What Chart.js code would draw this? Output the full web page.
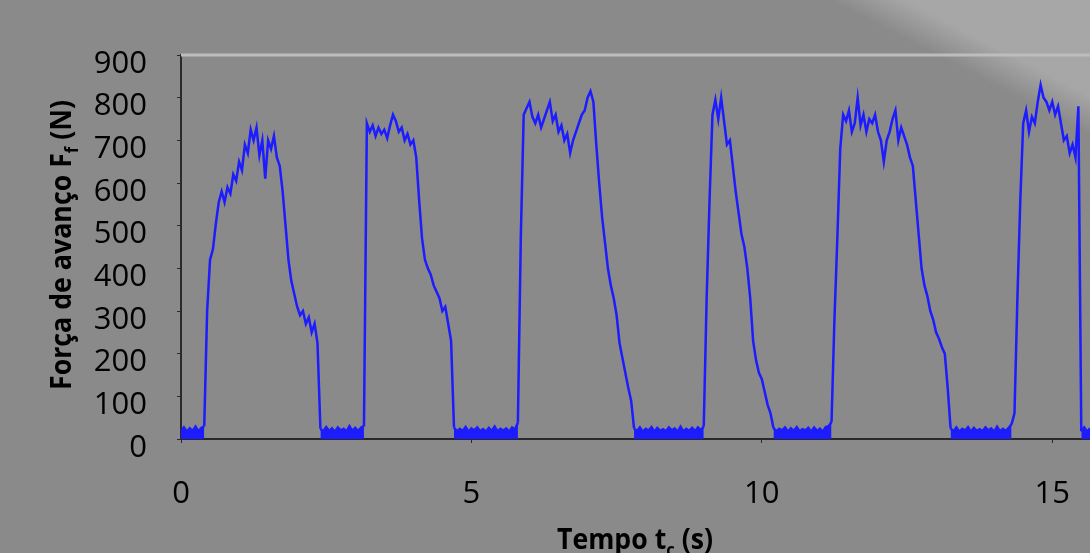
<!DOCTYPE html>
<html>
<head>
<meta charset="utf-8">
<script src="https://cdn.jsdelivr.net/npm/chart.js@4.4.1/dist/chart.umd.min.js"></script>
<style>
  html, body { margin: 0; padding: 0; background: #8a8a8a; }
  #wrap { width: 1090px; height: 553px; position: relative; }
</style>
</head>
<body>
<div id="wrap"><canvas id="grafico"></canvas></div>
<script>
// amostragem: uma leitura a cada 0,05 s
const passo = 0.05

// força de avanço (N), trecho a trecho
const repouso1 = [18, 27, 17, 25, 19, 29, 18, 26, 30]
const ciclo1 = [300, 420, 445, 505, 555, 580, 555, 590, 575, 620,
  605, 650, 630, 690, 670, 725, 700, 730, 665, 700,
  610, 700, 680, 710, 660, 640, 580, 500, 420, 370,
  340, 310, 290, 300, 270, 285, 250, 270, 225]
const repouso2 = [24, 18, 28, 19, 25, 17, 27, 20, 24, 18, 30, 19, 26, 18, 27, 30]
const ciclo2 = [740, 720, 735, 710, 730, 715, 725, 705, 735, 760,
  745, 720, 730, 700, 715, 690, 700, 660, 560, 470,
  420, 400, 385, 360, 345, 330, 300, 310, 270, 230]
const repouso3 = [27, 18, 24, 19, 28, 17, 25, 20, 27, 18, 23, 17, 26, 19, 29, 18, 24, 20, 25, 17, 27, 22, 38]
const ciclo3 = [470, 760, 775, 790, 755, 740, 760, 730, 750, 770,
  790, 745, 760, 720, 735, 700, 715, 670, 700, 720,
  740, 760, 770, 800, 815, 790, 690, 600, 520, 460,
  400, 360, 330, 290, 225, 190, 155, 120, 90]
const repouso4 = [25, 18, 27, 17, 24, 20, 28, 17, 26, 19, 23, 18, 27, 20, 25, 17, 29, 18, 24, 19, 26, 18, 27, 20, 30]
const ciclo4 = [330, 560, 760, 795, 750, 800, 745, 690, 700, 640,
  580, 530, 480, 450, 400, 330, 230, 185, 155, 140,
  110, 80, 60]
const repouso5 = [26, 18, 24, 20, 27, 17, 25, 19, 28, 18, 23, 20, 26, 17, 27, 19, 24, 17, 28, 30]
const ciclo5 = [40, 280, 470, 680, 760, 745, 770, 720, 740, 800,
  735, 760, 720, 750, 740, 760, 720, 700, 650, 700,
  720, 750, 770, 700, 730, 710, 690, 660, 640, 560,
  480, 400, 360, 335, 300, 280, 250, 235, 215, 200,
  120]
const repouso6 = [25, 18, 27, 17, 24, 20, 28, 17, 26, 19, 23, 18, 27, 20, 25, 17, 29, 18, 24, 19, 26, 35, 60]
const ciclo6 = [330, 560, 740, 770, 720, 755, 740, 790, 830, 800,
  790, 770, 790, 760, 780, 740, 700, 710, 670, 690,
  660, 780]
const repouso7 = [18, 27, 17, 25]

const ticksX = [0, 5, 10, 15]
const ticksY = [0, 100, 200, 300, 400, 500, 600, 700, 800, 900]

const forca = [...repouso1, ...ciclo1, ...repouso2, ...ciclo2, ...repouso3, ...ciclo3,
  ...repouso4, ...ciclo4, ...repouso5, ...ciclo5, ...repouso6, ...ciclo6, ...repouso7]
const pontos = forca.map((f, i) => ({ x: +(i * passo).toFixed(2), y: f }))
const tempoMax = pontos[pontos.length - 1].x

const azul = '#1c1cff'

// fundo cinzento com a zona clara no canto superior direito
const fundo = {
  id: 'fundo',
  beforeDraw(chart) {
    const ctx = chart.ctx
    ctx.save()
    ctx.fillStyle = '#8a8a8a'
    ctx.fillRect(0, 0, chart.width, chart.height)
    const g = ctx.createLinearGradient(922, 48, 938, 17)
    g.addColorStop(0, 'rgba(195,195,195,0)')
    g.addColorStop(1, 'rgba(195,195,195,0.5)')
    ctx.fillStyle = g
    ctx.fillRect(0, 0, chart.width, chart.height)
    ctx.restore()
  },
  beforeDatasetsDraw(chart) {
    const { ctx, chartArea } = chart
    ctx.save()
    ctx.strokeStyle = '#bdbdbd'
    ctx.lineWidth = 3
    ctx.beginPath()
    ctx.moveTo(chartArea.left, chartArea.top)
    ctx.lineTo(chartArea.right, chartArea.top)
    ctx.stroke()
    ctx.restore()
  }
}

// títulos dos eixos com índice (F_f, t_c)
function textoComIndice(ctx, partes, cx, cy, angulo, largura, tam) {
  const fonte = s => `bold ${s}px "Open Sans"`
  const tamSub = tam * 0.62
  let total = 0
  partes.forEach(p => {
    ctx.font = fonte(p.sub ? tamSub : tam)
    p.w = ctx.measureText(p.t).width
    total += p.w
  })
  ctx.save()
  ctx.translate(cx, cy)
  ctx.rotate(angulo)
  ctx.scale(largura / total, 1)
  ctx.fillStyle = '#000'
  ctx.textBaseline = 'alphabetic'
  let x = -total / 2
  const base = tam * 0.714 / 2
  partes.forEach(p => {
    ctx.font = fonte(p.sub ? tamSub : tam)
    ctx.fillText(p.t, x, p.sub ? base + tam * 0.22 : base)
    x += p.w
  })
  ctx.restore()
}

const titulos = {
  id: 'titulos',
  afterDraw(chart) {
    const ctx = chart.ctx
    textoComIndice(ctx, [{ t: 'Força de avanço F' }, { t: 'f', sub: true }, { t: ' (N)' }],
      61, 245, -Math.PI / 2, 290, 29)
    textoComIndice(ctx, [{ t: 'Tempo t' }, { t: 'c', sub: true }, { t: ' (s)' }],
      635, 539, 0, 156, 29)
  }
}

// o ruído em repouso aparece como uma faixa cheia
const emRepouso = c => c.p0.parsed.y < 45 && c.p1.parsed.y < 45

new Chart(document.getElementById('grafico'), {
  type: 'line',
  data: {
    datasets: [{
      data: pontos,
      borderColor: azul,
      borderWidth: 2.5,
      pointRadius: 0,
      tension: 0,
      fill: 'origin',
      backgroundColor: 'rgba(0,0,0,0)',
      segment: { backgroundColor: c => emRepouso(c) ? azul : 'rgba(0,0,0,0)' }
    }]
  },
  options: {
    responsive: true,
    maintainAspectRatio: false,
    animation: false,
    devicePixelRatio: 1,
    layout: { autoPadding: false, padding: { top: 55, right: 0, bottom: 0, left: 0 } },
    plugins: { legend: { display: false }, tooltip: { enabled: false } },
    scales: {
      x: {
        type: 'linear',
        min: 0,
        max: tempoMax,
        afterFit: s => { s.height = 114; s.paddingLeft = 0; s.paddingRight = 0 },
        afterBuildTicks: s => { s.ticks = ticksX.map(v => ({ value: v })) },
        border: { color: '#2a2a2a', width: 2 },
        grid: { drawOnChartArea: false, tickLength: 4, color: '#2a2a2a' },
        ticks: { color: '#000', padding: 33, maxRotation: 0, font: { family: 'Open Sans', size: 31 } }
      },
      y: {
        min: 0,
        max: 900,
        afterFit: s => { s.width = 181; s.paddingTop = 0; s.paddingBottom = 0 },
        afterBuildTicks: s => { s.ticks = ticksY.map(v => ({ value: v })) },
        border: { color: '#2a2a2a', width: 2 },
        grid: { drawOnChartArea: false, tickLength: 4, color: '#2a2a2a' },
        ticks: { color: '#000', padding: 30, labelOffset: 9, font: { family: 'Open Sans', size: 31 } }
      }
    }
  },
  plugins: [fundo, titulos]
})
</script>
</body>
</html>
